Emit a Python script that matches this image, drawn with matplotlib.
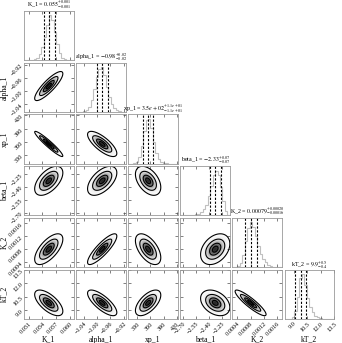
import numpy as np
import matplotlib
matplotlib.use("Agg")
import matplotlib.pyplot as plt

plt.rcParams['font.family'] = ['Liberation Serif', 'DejaVu Serif']
plt.rcParams['mathtext.fontset'] = 'stix'

# parameter names and diagonal titles
labels = ["K_1", "alpha_1", "xp_1", "beta_1", "K_2", "kT_2"]
titles = [
    r"K_1 = $0.055^{+0.001}_{-0.001}$",
    r"alpha_1 = $-0.98^{+0.02}_{-0.02}$",
    r"xp_1 = $3.5e+02^{+1.1e+01}_{-1.1e+01}$",
    r"beta_1 = $-2.33^{+0.07}_{-0.07}$",
    r"K_2 = $0.00079^{+0.00020}_{-0.00016}$",
    r"kT_2 = $9.9^{+0.5}_{-0.4}$",
]

medians = [0.0554, -0.985, 355.0, -2.33, 0.00080, 9.80]
q16 = [0.0543, -1.000, 343.5, -2.395, 0.00062, 9.20]
q84 = [0.0567, -0.967, 366.0, -2.260, 0.00100, 10.35]
sigmas = [0.0012, 0.017, 11.0, 0.065, 0.00018, 0.55]
ranges = [(0.0499, 0.0609), (-1.064, -0.914), (310.0, 422.0),
          (-2.734, -2.160), (0.00025, 0.00175), (8.0, 13.5)]
ticks = [[0.051, 0.054, 0.057, 0.060],
         [-1.04, -1.00, -0.96, -0.92],
         [330, 360, 390, 420],
         [-2.70, -2.55, -2.40, -2.25],
         [0.0004, 0.0008, 0.0012, 0.0016],
         [9.0, 10.5, 12.0, 13.5]]
tick_labels = [["0.051", "0.054", "0.057", "0.060"],
               ["\u22121.04", "\u22121.00", "\u22120.96", "\u22120.92"],
               ["330", "360", "390", "420"],
               ["\u22122.70", "\u22122.55", "\u22122.40", "\u22122.25"],
               ["0.0004", "0.0008", "0.0012", "0.0016"],
               ["9.0", "10.5", "12.0", "13.5"]]

# 20-bin histogram heights per parameter
hist_counts = [
    [0, 0, 1, 3, 8, 20, 45, 95, 170, 260, 330, 300, 210, 120, 55, 20, 7, 2, 1, 0],
    [0, 1, 2, 5, 15, 40, 90, 170, 260, 320, 330, 270, 185, 110, 60, 30, 15, 7, 3, 1],
    [0, 1, 4, 15, 50, 130, 240, 320, 330, 260, 160, 80, 35, 12, 5, 2, 1, 0, 0, 0],
    [0, 1, 1, 2, 3, 5, 8, 14, 25, 45, 80, 140, 220, 300, 330, 300, 210, 110, 30, 2],
    [0, 2, 8, 30, 90, 190, 290, 330, 300, 230, 160, 100, 60, 35, 20, 10, 5, 3, 1, 0],
    [0, 1, 3, 15, 60, 170, 310, 340, 260, 160, 90, 50, 25, 12, 6, 3, 1, 1, 0, 0],
]

# pairwise correlations (row, col)
corr = {
    (1, 0): 0.85,
    (2, 0): -0.95, (2, 1): -0.75,
    (3, 0): 0.55, (3, 1): 0.55, (3, 2): -0.45,
    (4, 0): 0.65, (4, 1): 0.85, (4, 2): -0.55, (4, 3): 0.35,
    (5, 0): -0.65, (5, 1): -0.75, (5, 2): 0.6, (5, 3): -0.35, (5, 4): -0.9,
}

contour_r = [0.5, 1.0, 1.7, 2.6]

n = len(labels)
fig, axes = plt.subplots(n, n, figsize=(3.42, 3.43), dpi=100)
fig.subplots_adjust(left=0.07, right=0.977, bottom=0.07, top=0.968,
                    wspace=0.05, hspace=0.05)

for i in range(n):
    for j in range(n):
        ax = axes[i, j]
        if j > i:
            ax.set_axis_off()
            continue

        if i == j:
            edges = np.linspace(ranges[i][0], ranges[i][1], len(hist_counts[i]) + 1)
            ax.stairs(hist_counts[i], edges, color='0.75', lw=0.8)
            for q in (q16[i], medians[i], q84[i]):
                ax.axvline(q, color='k', ls='--', lw=0.8, dashes=(2, 1.5))
            ax.set_ylim(0, 1.1 * max(hist_counts[i]))
            ax.set_yticks([])
            ax.set_title(titles[i], fontsize=4.3, pad=1.5)
        else:
            xs = np.linspace(ranges[j][0], ranges[j][1], 150)
            ys = np.linspace(ranges[i][0], ranges[i][1], 150)
            X, Y = np.meshgrid(xs, ys)
            dx = (X - medians[j]) / sigmas[j]
            dy = (Y - medians[i]) / sigmas[i]
            rho = corr[(i, j)]
            r = np.sqrt((dx**2 - 2 * rho * dx * dy + dy**2) / (1 - rho**2))
            dens = np.exp(-0.5 * r**2)
            dens = np.ma.masked_where(r > contour_r[-1], dens)
            ax.pcolormesh(X, Y, dens, cmap='Greys', vmin=0.0, vmax=1.15,
                          shading='auto', rasterized=True)
            ax.contour(X, Y, r, levels=contour_r, colors='k', linewidths=0.8)
            ax.set_ylim(ranges[i])

        ax.set_xlim(ranges[j])
        ax.set_xticks(ticks[j])
        if i < n - 1:
            ax.set_xticklabels([])
        else:
            ax.set_xticklabels(tick_labels[j], rotation=45, ha='right',
                               rotation_mode='anchor', fontsize=4.5)
            ax.set_xlabel(labels[j], fontsize=5.5)
            ax.xaxis.set_label_coords(0.5, -0.34)
        if i != j:
            ax.set_yticks(ticks[i])
            if j > 0:
                ax.set_yticklabels([])
            else:
                ax.set_yticklabels(tick_labels[i], rotation=45, ha='right',
                                   rotation_mode='anchor', fontsize=4.5)
                ax.set_ylabel(labels[i], fontsize=5.5)
                ax.yaxis.set_label_coords(-0.31, 0.5)
        ax.tick_params(direction='in', length=2, width=0.5, top=True,
                       right=(i != j), color='0.3', pad=1.5)
        for s in ax.spines.values():
            s.set_color('0.6')
            s.set_linewidth(0.6)

fig.savefig('out.png', dpi=100)
